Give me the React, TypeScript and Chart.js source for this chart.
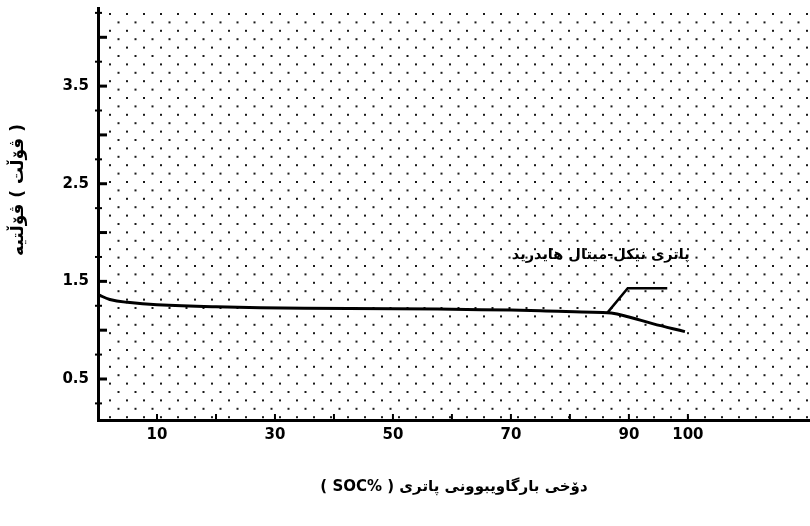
import React, { useEffect, useRef } from 'react';
import { Chart, registerables } from 'chart.js';

Chart.register(...registerables);

// ---- data ----
const socValues = [0, 2, 5, 10, 20, 35, 50, 65, 75, 82, 87, 90, 94, 99.5];
const voltageValues = [1.365, 1.315, 1.285, 1.26, 1.24, 1.225, 1.22, 1.21, 1.2, 1.185, 1.175, 1.135, 1.067, 0.985];
const leaderSoc = [86.3, 89.8, 96.5];
const leaderVoltage = [1.175, 1.43, 1.43];
const xTickValues = [10, 30, 50, 70, 90, 100];
const yTickValues = [0.5, 1.5, 2.5, 3.5];
const yMajorMarks = [0.5, 1, 1.5, 2, 2.5, 3, 3.5, 4];
const yMinorMarks = [0.25, 0.75, 1.25, 1.75, 2.25, 2.75, 3.25, 3.75, 4.25];
const xMarks = [10, 20, 30, 40, 50, 60, 70, 80, 90, 100];
const seriesLabel = 'پاتری نیکل-میتال هایدرید';
const labelPosition = [100.3, 1.77];
const xTitle = '( SOC% ) دۆخی بارگاویبوونی پاتری';
const yTitle = 'ڤۆڵتیە\u200E ( ڤۆڵت )';

const FONT = '"DejaVu Sans", sans-serif';

const dotsPlugin = {
  id: 'dots',
  beforeDatasetsDraw(chart: any) {
    const { ctx, chartArea } = chart;
    const { left, right, top, bottom } = chartArea;
    ctx.save();
    ctx.fillStyle = '#1a1a1a';
    let row = 0;
    for (let y = top + 6; y < bottom - 2; y += 8.4) {
      const off = row % 2 === 0 ? 0 : 8.5;
      for (let x = left + 12 + off; x < right; x += 17) {
        ctx.fillRect(x - 1, y - 1, 2, 2);
      }
      row++;
    }
    ctx.restore();
  },
  afterDatasetsDraw(chart: any) {
    const { ctx, chartArea, scales } = chart;
    const xs = scales.x;
    const ys = scales.y;
    ctx.save();
    ctx.strokeStyle = '#000';
    ctx.lineCap = 'butt';
    // y major marks (pointing right)
    ctx.lineWidth = 3;
    for (const v of yMajorMarks) {
      const py = ys.getPixelForValue(v);
      ctx.beginPath();
      ctx.moveTo(chartArea.left, py);
      ctx.lineTo(chartArea.left + 9, py);
      ctx.stroke();
    }
    ctx.lineWidth = 2;
    for (const v of yMinorMarks) {
      const py = ys.getPixelForValue(v);
      ctx.beginPath();
      ctx.moveTo(chartArea.left - 3, py);
      ctx.lineTo(chartArea.left + 4, py);
      ctx.stroke();
    }
    // x marks (pointing up)
    ctx.lineWidth = 2;
    for (const v of xMarks) {
      const px = xs.getPixelForValue(v);
      ctx.beginPath();
      ctx.moveTo(px, chartArea.bottom);
      ctx.lineTo(px, chartArea.bottom - 6);
      ctx.stroke();
    }
    // series label
    ctx.fillStyle = '#000';
    ctx.font = `bold 14.5px ${FONT}`;
    ctx.textAlign = 'right';
    ctx.textBaseline = 'middle';
    ctx.fillText(seriesLabel, xs.getPixelForValue(labelPosition[0]), ys.getPixelForValue(labelPosition[1]));
    // y axis title (rotated)
    ctx.save();
    ctx.translate(19, 190);
    ctx.rotate(-Math.PI / 2);
    ctx.font = `bold 17px ${FONT}`;
    ctx.textAlign = 'center';
    ctx.textBaseline = 'middle';
    ctx.fillText(yTitle, 0, 0);
    ctx.restore();
    ctx.restore();
  },
};

export default function App() {
  const ref = useRef<HTMLCanvasElement>(null);

  useEffect(() => {
    if (!ref.current) return;
    const chart = new Chart(ref.current, {
      type: 'line',
      data: {
        datasets: [
          {
            label: seriesLabel,
            data: socValues.map((x, i) => ({ x, y: voltageValues[i] })),
            borderColor: '#000',
            borderWidth: 3,
            pointRadius: 0,
            tension: 0.4,
            fill: false,
          },
          {
            label: 'leader',
            data: leaderSoc.map((x, i) => ({ x, y: leaderVoltage[i] })),
            borderColor: '#000',
            borderWidth: 2.5,
            pointRadius: 0,
            tension: 0,
            fill: false,
          },
        ],
      },
      options: {
        responsive: false,
        animation: false,
        devicePixelRatio: 1,
        layout: { padding: { top: 8, right: 0, left: 0, bottom: 0 } },
        plugins: {
          legend: { display: false },
          tooltip: { enabled: false },
        },
        scales: {
          x: {
            type: 'linear',
            min: 0,
            max: 120.7,
            grid: { display: false, drawTicks: false },
            border: { display: true, color: '#000', width: 3 },
            afterBuildTicks: (scale: any) => {
              scale.ticks = xTickValues.map((v) => ({ value: v }));
            },
            afterFit: (scale: any) => {
              scale.height = 106;
              scale.paddingLeft = 0;
              scale.paddingRight = 0;
            },
            ticks: {
              color: '#000',
              padding: 6,
              maxRotation: 0,
              autoSkip: false,
              font: { family: FONT, size: 15, weight: 'bold' },
              callback: (v: any) => String(v),
            },
            title: {
              display: true,
              text: xTitle,
              color: '#000',
              padding: { top: 30, bottom: 30 },
              font: { family: FONT, size: 15, weight: 'bold' },
            },
          },
          y: {
            type: 'linear',
            min: 0.08,
            max: 4.3,
            grid: { display: false, drawTicks: false },
            border: { display: true, color: '#000', width: 3 },
            afterBuildTicks: (scale: any) => {
              scale.ticks = yTickValues.map((v) => ({ value: v }));
            },
            afterFit: (scale: any) => {
              scale.width = 98;
              scale.paddingTop = 0;
              scale.paddingBottom = 0;
            },
            ticks: {
              color: '#000',
              padding: 9,
              autoSkip: false,
              font: { family: FONT, size: 15, weight: 'bold' },
              callback: (v: any) => String(v),
            },
          },
        },
      },
      plugins: [dotsPlugin],
    });
    return () => chart.destroy();
  }, []);

  return (
    <div style={{ position: 'absolute', left: 0, top: 0, width: 810, height: 526, background: '#fff' }}>
      <canvas ref={ref} width={810} height={526} style={{ display: 'block', width: 810, height: 526 }} />
    </div>
  );
}
